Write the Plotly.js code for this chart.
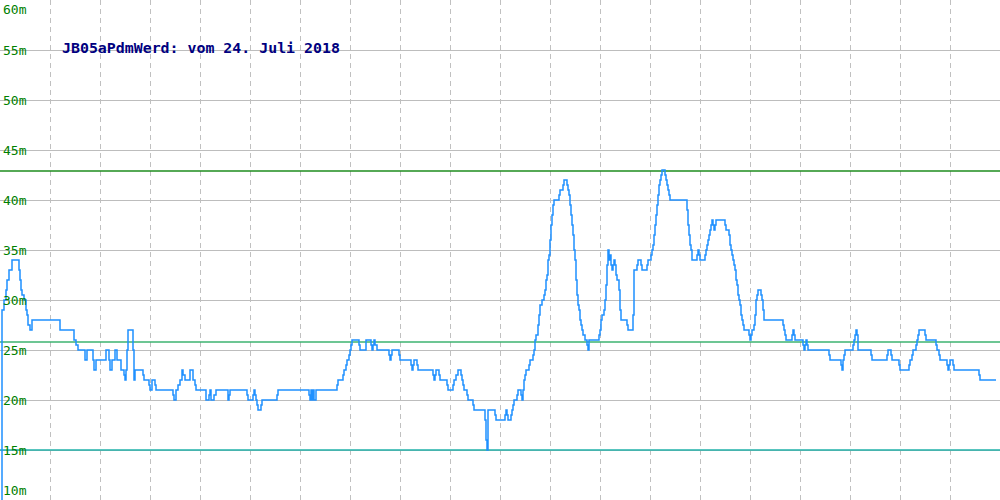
<!DOCTYPE html>
<html><head><meta charset="utf-8">
<script src="https://cdn.plot.ly/plotly-3.0.1.min.js"></script>
<style>html,body{margin:0;padding:0;background:#fff}#chart{width:1000px;height:500px}</style>
</head><body><div id="chart"></div>
<script>
const chartTitle = "JB05aPdmWerd: vom 24. Juli 2018";
const tickValues = [10, 15, 20, 25, 30, 35, 40, 45, 50, 55, 60];
const tickLabels = ["10m","15m","20m","25m","30m","35m","40m","45m","50m","55m","60m"];
const limitValues = [42.9, 25.8, 15];
const timeIdx = [2,2,4,6,7,9,12,19,20,21,22,24,26,27,28,30,32,60,74,76,78,85,87,93,94,96,106,109,110,112,115,117,121,124,125,126,127,128,133,134,135,143,144,149,150,152,155,156,173,174,176,178,180,182,183,185,190,193,195,196,206,209,210,211,214,216,228,229,230,247,248,253,254,255,256,257,258,261,262,277,278,309,310,311,312,313,314,316,337,338,343,344,346,347,349,350,351,352,359,360,366,371,372,373,374,375,377,389,390,391,392,399,400,411,412,413,414,417,418,433,434,435,436,439,440,447,448,453,454,456,458,461,462,463,464,467,468,473,474,485,486,487,488,495,496,505,506,507,508,511,512,513,514,517,518,521,522,523,524,525,526,529,530,533,534,535,536,538,539,540,542,544,545,546,547,548,549,550,551,552,553,554,559,560,563,564,567,568,569,570,571,572,573,574,575,576,577,578,579,580,581,582,583,585,587,588,589,599,600,601,602,604,605,606,607,608,609,610,611,612,613,614,615,616,617,619,620,621,627,628,633,634,637,638,641,642,647,648,651,652,653,654,655,656,657,658,659,660,661,662,665,666,667,668,669,670,687,688,689,690,691,692,697,698,699,700,705,706,707,708,709,710,711,712,713,714,715,716,725,726,729,730,731,732,733,734,735,736,737,738,739,740,741,742,743,744,749,750,751,752,754,755,756,757,758,761,762,763,764,783,784,785,786,792,793,794,795,803,804,805,806,807,808,829,830,841,842,843,844,845,853,854,855,856,857,858,871,872,887,888,891,892,899,900,909,910,912,913,916,917,918,919,925,926,936,937,939,940,947,948,949,950,953,954,979,980,996];
const depthM = [10,29,30,31,32,33,34,33,32,31,30.5,30,29,28.5,27.5,27,28,27,26,25.5,25,24,25,24,23,24,25,24,23,24,25,24,23,22.5,22,23,25,27,25,22,23,22.5,22,21.5,21,22,21.5,21,20.5,20,21,21.5,22,23,22.5,22,23,22,21.5,21,20,20.5,21,20,20.5,21,20,20.5,21,20.5,20,20.5,21,20.5,20,19.5,19,19.5,20,20.5,21,20.5,20,21,20,21,20,21,21.5,22,22.5,23,23.5,24,24.5,25,25.5,26,25.5,25,26,25.5,25,25.5,26,25.5,25,24.5,24,24.5,25,24.5,24,23.5,23,23.5,24,23.5,23,22.5,22,22.5,23,22.5,22,21.5,21,21.5,22,22.5,23,22.5,22,21.5,21,20.5,20,19.5,19,18,16,15,19,18.5,18,18.5,19,18.5,18,18.5,19,19.5,20,20.5,21,20.5,20,21,22,22.5,23,23.5,24,24.5,25,26,26.5,27.5,28.5,29.5,30,30.5,31,32,32.5,34,34.5,36,37.5,38.5,39.5,40,40.5,41,41.5,42,41.5,41,40.5,39.5,38.5,37.5,36.5,35,34,32,30.5,29.5,29,28,27.5,27,26.5,26,25.5,25,26,26.5,27,28,28.5,29,30,31.5,33.5,35,34,34.5,33.5,33,33.5,34,33.5,32.5,32,31,29,28,27.5,27,28.5,33,33.5,34,33.5,33,33.5,34,34.5,35,35.5,36.5,37.5,38.5,39.5,40.5,41.5,42,42.5,43,42.5,42,41.5,41,40.5,40,39,37.5,36.5,35.5,35,34,34.5,35,34.5,34,34.5,35,35.5,36,36.5,37,37.5,38,37.5,37,37.5,38,37.5,37,36.5,35.5,35,34.5,34,33.5,33,32,31.5,30.5,30,29.5,28.5,28,27.5,27,26.5,26,26.5,27,27.5,28.5,30,30.5,31,30.5,30,29,28,27.5,27,26.5,26,26.5,27,26.5,26,25.5,25,25.5,26,25.5,25,24.5,24,23.5,23,24,24.5,25,25.5,26,26.5,27,26.5,25,24.5,24,24.5,25,24.5,24,23.5,23,23.5,24,24.5,25,25.5,26,26.5,27,26.5,26,25.5,25,24.5,24,23.5,23,23.5,24,23.5,23,22.5,22,22];

const limitColors = ["#1e8c1e", "#3cb371", "#20b2aa"];
const xRange = [0, 1000];
const limitTraces = limitValues.map((v, i) => ({
  x: xRange, y: [v, v], type: "scatter", mode: "lines",
  line: {color: limitColors[i], width: 1.4},
  hoverinfo: "skip", showlegend: false
}));

const annotations = tickValues.map((v, i) => ({
  xref: "paper", x: 0, xanchor: "left", xshift: 1,
  yref: "y", y: v,
  yanchor: i === tickValues.length - 1 ? "top" : (i === 0 ? "bottom" : "middle"),
  text: tickLabels[i], showarrow: false,
  font: {family: "DejaVu Sans Mono, monospace", size: 13, color: "#008000"}
}));
annotations.push({
  xref: "paper", x: 0.06, xanchor: "left",
  yref: "paper", y: 0.904, yanchor: "middle",
  text: "<b>" + chartTitle + "</b>", showarrow: false,
  font: {family: "DejaVu Sans Mono, monospace", size: 14.9, color: "#000080"}
});

const trace = {
  x: timeIdx, y: depthM, type: "scatter", mode: "lines",
  line: {color: "#1e90ff", width: 1.5, shape: "hv"},
  hoverinfo: "skip", showlegend: false
};

const layout = {
  width: 1000, height: 500,
  margin: {l: 0, r: 0, t: 0, b: 0},
  paper_bgcolor: "#fff", plot_bgcolor: "#fff",
  showlegend: false,
  xaxis: {range: xRange, dtick: 50, tick0: 0, showticklabels: false, ticks: "",
          showgrid: true, gridcolor: "#c0c0c0", griddash: "5px,4px", gridwidth: 1,
          zeroline: false, showline: true, linecolor: "#bbbbbb", mirror: true, linewidth: 3},
  yaxis: {range: [10, 60], tickvals: tickValues, showticklabels: false, ticks: "",
          showgrid: true, gridcolor: "#bdbdbd", gridwidth: 1,
          zeroline: false, showline: true, linecolor: "#bbbbbb", mirror: true, linewidth: 3},
  annotations: annotations
};

Plotly.newPlot("chart", limitTraces.concat([trace]), layout, {staticPlot: true, displayModeBar: false});
</script></body></html>
